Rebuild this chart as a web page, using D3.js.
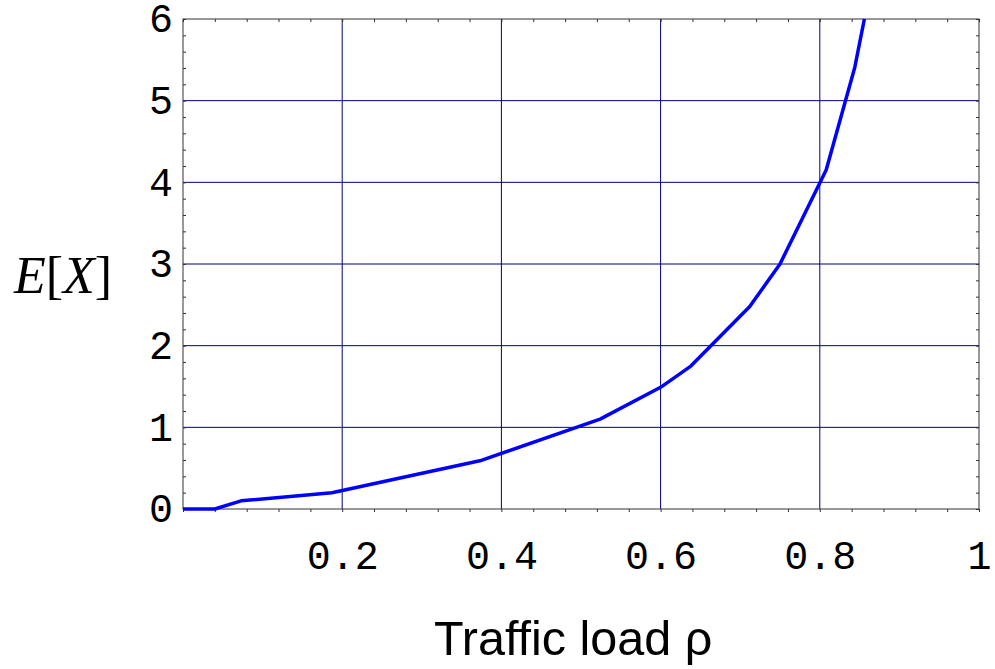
<!DOCTYPE html>
<html>
<head>
<meta charset="utf-8">
<script src="https://cdn.jsdelivr.net/npm/d3@7"></script>
<style>
  body { margin: 0; background: #fff; }
</style>
</head>
<body>
<div id="chart"></div>
<script>
// traffic load values and mean E[X]
var load = [0, 0.04, 0.073, 0.187, 0.373, 0.524, 0.6, 0.638, 0.712, 0.75, 0.808, 0.844, 0.856];
var meanX = [0, 0, 0.1, 0.2, 0.59, 1.1, 1.49, 1.75, 2.48, 3.0, 4.15, 5.41, 6.0];

var xTicks = [0.2, 0.4, 0.6, 0.8, 1];
var yTicks = [0, 1, 2, 3, 4, 5, 6];
var xGrid = [0.2, 0.4, 0.6, 0.8];
var yGrid = [1, 2, 3, 4, 5];

var width = 995, height = 669;
var margin = {left: 183, top: 19, right: 16, bottom: 160};

var svg = d3.select("#chart")
  .append("svg")
    .attr("width", width)
    .attr("height", height)

var x = d3.scaleLinear().domain([0, 1]).range([margin.left, width - margin.right]);
var y = d3.scaleLinear().domain([0, 6]).range([height - margin.bottom, margin.top]);

// grid lines
svg.append("g")
  .selectAll("line")
  .data(xGrid)
  .enter()
  .append("line")
    .attr("x1", d => x(d)).attr("x2", d => x(d))
    .attr("y1", y(0)).attr("y2", y(6))
    .attr("stroke", "#000080")
    .attr("stroke-width", 1)

svg.append("g")
  .selectAll("line")
  .data(yGrid)
  .enter()
  .append("line")
    .attr("x1", x(0)).attr("x2", x(1))
    .attr("y1", d => y(d)).attr("y2", d => y(d))
    .attr("stroke", "#000080")
    .attr("stroke-width", 1)

// minor ticks on all four sides
var xMinor = d3.range(0, 1.0001, 0.04);
var yMinor = d3.range(0, 6.0001, 0.2);

svg.append("g")
  .attr("transform", "translate(0," + y(0) + ")")
  .call(d3.axisBottom(x).tickValues(xMinor).tickSize(3).tickFormat(""))
  .call(g => g.select(".domain").remove())
  .selectAll("line").attr("stroke", "#333");

svg.append("g")
  .attr("transform", "translate(0," + y(6) + ")")
  .call(d3.axisBottom(x).tickValues(xMinor).tickSize(3).tickFormat(""))
  .call(g => g.select(".domain").remove())
  .selectAll("line").attr("stroke", "#333");

svg.append("g")
  .attr("transform", "translate(" + x(0) + ",0)")
  .call(d3.axisRight(y).tickValues(yMinor).tickSize(3).tickFormat(""))
  .call(g => g.select(".domain").remove())
  .selectAll("line").attr("stroke", "#333");

svg.append("g")
  .attr("transform", "translate(" + x(1) + ",0)")
  .call(d3.axisLeft(y).tickValues(yMinor).tickSize(3).tickFormat(""))
  .call(g => g.select(".domain").remove())
  .selectAll("line").attr("stroke", "#333");

// frame
svg.append("rect")
  .attr("x", x(0)).attr("y", y(6))
  .attr("width", x(1) - x(0)).attr("height", y(0) - y(6))
  .attr("fill", "none")
  .attr("stroke", "#333")
  .attr("stroke-width", 1)

// tick labels
var xAxis = svg.append("g")
  .attr("transform", "translate(0," + y(0) + ")")
  .call(d3.axisBottom(x).tickValues(xTicks).tickSize(0).tickPadding(32).tickFormat(d3.format("")))
xAxis.select(".domain").remove();
xAxis.selectAll("text")
  .style("font-family", "'Liberation Mono', 'Courier New', monospace")
  .style("font-size", "40px")
  .attr("fill", "#000");

var yAxis = svg.append("g")
  .attr("transform", "translate(" + x(0) + ",0)")
  .call(d3.axisLeft(y).tickValues(yTicks).tickSize(0).tickPadding(10).tickFormat(d3.format("")))
yAxis.select(".domain").remove();
yAxis.selectAll("text")
  .style("font-family", "'Liberation Mono', 'Courier New', monospace")
  .style("font-size", "40px")
  .attr("fill", "#000");

// the curve
var line = d3.line()
  .x((d, i) => x(load[i]))
  .y((d, i) => y(meanX[i]));

svg.append("path")
  .datum(load)
  .attr("d", line)
  .attr("fill", "none")
  .attr("stroke", "#0000ff")
  .attr("stroke-width", 3.5)
  .attr("stroke-linejoin", "round")

// axis titles
svg.append("text")
  .attr("x", 434)
  .attr("y", 655)
  .style("font-family", "'Liberation Sans', Arial, sans-serif")
  .style("font-size", "48.5px")
  .text("Traffic load ρ")

var ylab = svg.append("text")
  .attr("x", 14)
  .attr("y", 293)
  .style("font-family", "'Liberation Serif', 'Times New Roman', serif")
  .style("font-size", "52px")
ylab.append("tspan").style("font-style", "italic").text("E");
ylab.append("tspan").text("[");
ylab.append("tspan").style("font-style", "italic").text("X");
ylab.append("tspan").text("]");
</script>
</body>
</html>
